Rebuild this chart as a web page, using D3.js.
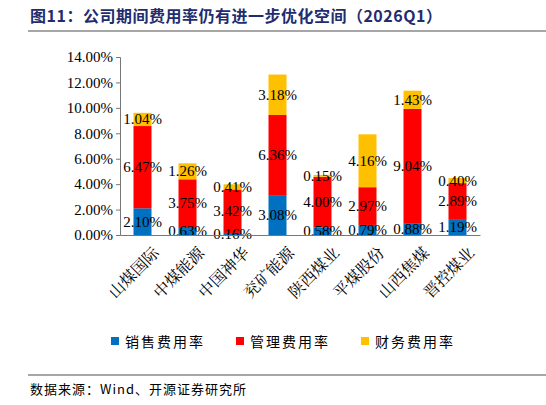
<!DOCTYPE html>
<html><head><meta charset="utf-8">
<script src="https://cdn.jsdelivr.net/npm/d3@7"></script>
<style>body{margin:0;background:#fff}</style>
</head><body><div class="chart"></div>
<script>
const companies = ["山煤国际", "中煤能源", "中国神华", "兖矿能源", "陕西煤业", "平煤股份", "山西焦煤", "晋控煤业"];
const sales = [2.10, 0.63, 0.16, 3.08, 0.58, 0.79, 0.88, 1.19];
const admin = [6.47, 3.75, 3.42, 6.36, 4.00, 2.97, 9.04, 2.89];
const finance = [1.04, 1.26, 0.41, 3.18, 0.15, 4.16, 1.43, 0.40];
const seriesNames = ["销售费用率", "管理费用率", "财务费用率"];
const yTicks = [0, 2, 4, 6, 8, 10, 12, 14];

const width = 546, height = 405;
const colors = ["#0070C0", "#FF0000", "#FFC000"];
const serif = "'Liberation Serif', 'Noto Serif CJK SC', 'Noto Sans CJK SC', serif";

const svg = d3.select(".chart").append("svg")
    .attr("width", width).attr("height", height);

svg.append("text").attr("x", 30).attr("y", 22)
    .attr("font-family", "'Noto Sans CJK SC', sans-serif").attr("font-weight", "bold")
    .attr("font-size", 16).attr("fill", "#1F2D6E").attr("letter-spacing", 0.5)
    .text("图11：公司期间费用率仍有进一步优化空间（2026Q1）");
svg.append("line").attr("x1", 28).attr("x2", 546).attr("y1", 31).attr("y2", 31)
    .attr("stroke", "#888").attr("stroke-width", 1.5);

const x = d3.scaleBand().domain(companies).range([120, 480]).paddingInner(0.6).paddingOuter(0.3);
const y = d3.scaleLinear().domain([0, 14]).range([235, 57]);

const rows = companies.map((c, i) => ({ c, s0: sales[i], s1: admin[i], s2: finance[i] }));
const stacked = d3.stack().keys(["s0", "s1", "s2"])(rows);

const g = svg.append("g");
stacked.forEach((layer, k) => {
    g.selectAll(".bar" + k).data(layer).enter().append("rect")
        .attr("x", d => x(d.data.c)).attr("width", x.bandwidth())
        .attr("y", d => y(d[1])).attr("height", d => y(d[0]) - y(d[1]))
        .attr("fill", colors[k]);
});
stacked.forEach(layer => {
    g.selectAll(null).data(layer).enter().append("text")
        .attr("x", d => x(d.data.c) + x.bandwidth() / 2)
        .attr("y", d => y((d[0] + d[1]) / 2) + 5)
        .attr("text-anchor", "middle").attr("font-family", serif).attr("font-size", 15)
        .text(d => (d[1] - d[0]).toFixed(2) + "%");
});

const yAxis = svg.append("g").attr("transform", "translate(120,0)")
    .call(d3.axisLeft(y).tickValues(yTicks).tickSize(4).tickFormat(d => d.toFixed(2) + "%"));
const xAxis = svg.append("g").attr("transform", "translate(0,235)")
    .call(d3.axisBottom(x).tickSize(0).tickFormat(""));
[yAxis, xAxis].forEach(a => {
    a.select(".domain").attr("stroke", "#777");
    a.selectAll("line").attr("stroke", "#777");
});
yAxis.selectAll("text").attr("font-family", serif).attr("font-size", 15).attr("fill", "#000");

svg.append("g").selectAll("text").data(companies).enter().append("text")
    .attr("transform", d => `translate(${x(d) + x.bandwidth() / 2 + 10},246) rotate(-45)`)
    .attr("text-anchor", "end").attr("font-family", "'Noto Serif CJK SC', 'Noto Sans CJK SC', serif")
    .attr("font-size", 16).attr("dy", "0.7em").text(d => d);

const legend = svg.append("g");
seriesNames.forEach((n, i) => {
    const lx = 111 + i * 125;
    legend.append("rect").attr("x", lx).attr("y", 337).attr("width", 8).attr("height", 8).attr("fill", colors[i]);
    legend.append("text").attr("x", lx + 14).attr("y", 347).attr("letter-spacing", 2)
        .attr("font-family", "'Noto Sans CJK SC', sans-serif").attr("font-size", 14).text(n);
});

svg.append("line").attr("x1", 28).attr("x2", 546).attr("y1", 375).attr("y2", 375)
    .attr("stroke", "#888").attr("stroke-width", 1.5);
svg.append("text").attr("x", 30).attr("y", 394).attr("letter-spacing", 1)
    .attr("font-family", "'Noto Sans CJK SC', sans-serif").attr("font-size", 13)
    .text("数据来源：Wind、开源证券研究所");
</script></body></html>
